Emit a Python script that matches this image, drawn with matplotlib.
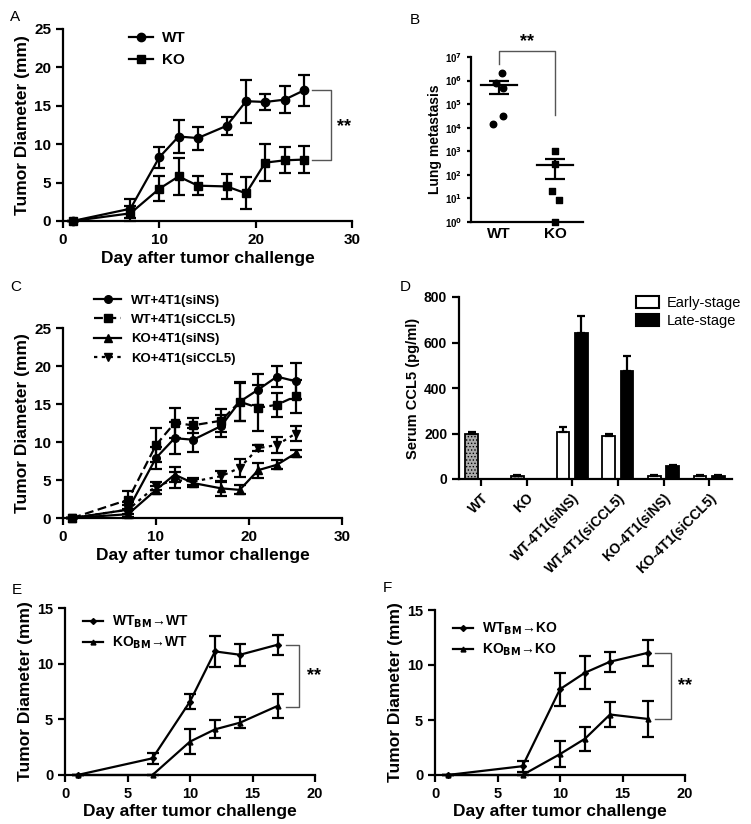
import numpy as np
import matplotlib
matplotlib.use("Agg")
import matplotlib.pyplot as plt
from matplotlib.lines import Line2D

plt.rcParams['font.family'] = ['Liberation Sans', 'DejaVu Sans']
plt.rcParams['font.weight'] = 'bold'
plt.rcParams['axes.labelweight'] = 'bold'
plt.rcParams['hatch.linewidth'] = 0.6

# ---- data -------------------------------------------------------------
days_a = [1, 7, 10, 12, 14, 17, 19, 21, 23, 25]
wt_a = [0, 1.6, 8.3, 11.0, 10.8, 12.4, 15.6, 15.5, 15.8, 17.0]
wt_a_err = [0, 1.2, 1.4, 2.1, 1.5, 1.2, 2.8, 1.1, 1.8, 2.0]
ko_a = [0, 1.0, 4.2, 5.8, 4.6, 4.5, 3.6, 7.6, 7.9, 8.0]
ko_a_err = [0, 1.0, 1.6, 2.4, 1.2, 1.6, 2.1, 2.4, 1.7, 1.8]

wt_b = [2.0e6, 8.0e5, 5.0e5, 3.0e4, 1.5e4]
ko_b = [1.0e3, 3.0e2, 20, 9, 1]
b_mean = [6.3e5, 2.6e2]
b_sem = [3.7e5, 1.9e2]

days_c = [1, 7, 10, 12, 14, 17, 19, 21, 23, 25]
c_labels = ['WT+4T1(siNS)', 'WT+4T1(siCCL5)', 'KO+4T1(siNS)', 'KO+4T1(siCCL5)']
c_vals = [
    [0, 1.1, 7.9, 10.5, 10.3, 12.1, 15.3, 16.9, 18.6, 18.0],
    [0, 2.4, 9.6, 12.5, 12.2, 12.8, 15.3, 14.5, 14.9, 16.0],
    [0, 0.5, 3.7, 5.7, 4.6, 3.9, 3.7, 6.3, 7.0, 8.5],
    [0, 1.1, 4.2, 5.0, 4.8, 5.5, 6.6, 9.2, 9.6, 11.1],
]
c_errs = [
    [0, 1.0, 1.5, 2.1, 1.6, 1.5, 2.5, 2.0, 1.4, 2.4],
    [0, 1.2, 2.2, 2.0, 1.0, 1.5, 2.6, 3.0, 1.6, 2.2],
    [0, 0.5, 0.5, 1.0, 0.5, 1.0, 0.6, 1.0, 0.6, 0.5],
    [0, 0.6, 0.5, 1.1, 0.5, 0.7, 1.2, 0.4, 1.1, 1.0],
]

d_groups = ['WT', 'KO', 'WT-4T1(siNS)', 'WT-4T1(siCCL5)', 'KO-4T1(siNS)', 'KO-4T1(siCCL5)']
d_early = [200, 15, 205, 188, 15, 15]
d_early_err = [6, 2, 25, 8, 2, 2]
d_late = [None, None, 640, 475, 55, 15]
d_late_err = [None, None, 75, 65, 8, 2]

days_e = [1, 7, 10, 12, 14, 17]
wt_e = [0, 1.5, 6.6, 11.1, 10.8, 11.7]
wt_e_err = [0, 0.5, 0.7, 1.4, 1.0, 0.9]
ko_e = [0, 0, 3.0, 4.1, 4.7, 6.2]
ko_e_err = [0, 0, 1.1, 0.8, 0.5, 1.1]

wt_f = [0, 0.8, 7.8, 9.3, 10.3, 11.1]
wt_f_err = [0, 0.5, 1.5, 1.5, 0.9, 1.2]
ko_f = [0, 0, 1.9, 3.3, 5.5, 5.1]
ko_f_err = [0, 0, 1.2, 1.1, 1.1, 1.6]

# ---- layout -----------------------------------------------------------
W, H = 751, 824
fig = plt.figure(figsize=(W / 100, H / 100), dpi=100)


def add_ax(left, top, right, bottom):
    return fig.add_axes([left / W, 1 - bottom / H, (right - left) / W, (bottom - top) / H])


def style(ax, fs=11):
    for s in ['top', 'right']:
        ax.spines[s].set_visible(False)
    for s in ['left', 'bottom']:
        ax.spines[s].set_linewidth(1.6)
    ax.tick_params(width=1.6, length=5, labelsize=fs, direction='out')
    for lab in ax.get_xticklabels() + ax.get_yticklabels():
        lab.set_fontweight('bold')


def line(ax, x, y, e, marker, ls='-', ms=6, label=None):
    ax.errorbar(x, y, yerr=e, color='black', marker=marker, ms=ms, ls=ls, lw=1.6,
                elinewidth=1.6, capsize=4, capthick=1.6, clip_on=False)
    return Line2D([], [], color='black', marker=marker, ms=ms, ls=ls, lw=1.6, label=label)


def bracket(ax, x0, x1, y_top, y_bot, tx, ty, fs=13):
    ax.plot([x0, x1, x1, x0], [y_top, y_top, y_bot, y_bot], color='#555555', lw=1.0, clip_on=False)
    ax.text(tx, ty, '**', fontsize=fs, fontweight='bold', ha='center', va='center')


# Panel A
ax = add_ax(63, 29, 352, 221)
hs = [line(ax, days_a, wt_a, wt_a_err, 'o', label='WT'),
      line(ax, days_a, ko_a, ko_a_err, 's', label='KO')]
ax.set_xlim(0, 30)
ax.set_ylim(0, 25)
ax.set_xticks([0, 10, 20, 30])
ax.set_yticks([0, 5, 10, 15, 20, 25])
ax.set_xlabel('Day after tumor challenge', fontsize=12.5, labelpad=3)
ax.set_ylabel('Tumor Diameter (mm)', fontsize=12.5, labelpad=3)
style(ax)
bracket(ax, 25.8, 27.8, 17.0, 8.0, 29.2, 12.3)
ax.legend(handles=hs, loc='upper left', bbox_to_anchor=(0.18, 1.06), frameon=False,
          handlelength=1.6, handletextpad=0.6, labelspacing=0.5,
          prop={'weight': 'bold', 'size': 11})
fig.text(10 / W, 1 - 17 / H, 'A', fontsize=11, fontweight='normal', va='center')

# Panel B
ax = add_ax(471, 57, 583, 222)
ax.set_yscale('log')
ax.scatter(np.zeros(len(wt_b)) + np.array([0.05, -0.05, 0.08, 0.08, -0.1]), wt_b,
           marker='o', color='black', s=22, zorder=3, clip_on=False)
ax.scatter(np.ones(len(ko_b)) + np.array([0.0, 0.0, -0.05, 0.08, 0.0]), ko_b,
           marker='s', color='black', s=20, zorder=3, clip_on=False)
for i in range(2):
    ax.plot([i - 0.33, i + 0.33], [b_mean[i], b_mean[i]], color='black', lw=1.6)
    ax.errorbar([i], [b_mean[i]], yerr=[b_sem[i]], color='black', lw=1.6, capsize=7, capthick=1.6)
ax.set_xlim(-0.5, 1.5)
ax.set_ylim(1, 1e7)
ax.set_yticks([10.0 ** k for k in range(8)])
ax.set_yticklabels(['10$^{%d}$' % k for k in range(8)])
ax.minorticks_off()
ax.set_xticks([0, 1])
ax.set_xticklabels(['WT', 'KO'])
ax.set_ylabel('Lung metastasis', fontsize=10, labelpad=2)
style(ax, fs=7)
ax.tick_params(axis='x', labelsize=11, length=0)
ax.tick_params(axis='y', length=3)
ax.plot([0, 0, 1, 1], [10 ** 6.7, 10 ** 7.25, 10 ** 7.25, 10 ** 4.55], color='#555555', lw=1.0, clip_on=False)
ax.text(0.5, 10 ** 7.65, '**', fontsize=13, fontweight='bold', ha='center', va='center')
fig.text(410 / W, 1 - 20 / H, 'B', fontsize=11, fontweight='normal', va='center')

# Panel C
ax = add_ax(63, 328, 342, 518)
c_markers = ['o', 's', '^', 'v']
c_styles = ['-', (0, (4, 2)), '-', (0, (1.5, 2))]
hs = []
for vals, errs, mk, ls, lab in zip(c_vals, c_errs, c_markers, c_styles, c_labels):
    hs.append(line(ax, days_c, vals, errs, mk, ls=ls, ms=5.5, label=lab))
ax.set_xlim(0, 30)
ax.set_ylim(0, 25)
ax.set_xticks([0, 10, 20, 30])
ax.set_yticks([0, 5, 10, 15, 20, 25])
ax.set_xlabel('Day after tumor challenge', fontsize=12.5, labelpad=3)
ax.set_ylabel('Tumor Diameter (mm)', fontsize=12.5, labelpad=3)
style(ax)
ax.legend(handles=hs, loc='upper left', bbox_to_anchor=(0.07, 1.24), frameon=False,
          handlelength=2.0, handletextpad=0.8, labelspacing=0.55,
          prop={'weight': 'bold', 'size': 9.5})
fig.text(10 / W, 1 - 287 / H, 'C', fontsize=11, fontweight='normal', va='center')

# Panel D
ax = add_ax(459, 297, 732, 479)
xg = np.arange(len(d_groups))
bw = 0.28
off = 0.2
ekw = {'elinewidth': 1.6, 'capthick': 1.6}
for i in range(len(d_groups)):
    if d_late[i] is None:
        ax.bar(xg[i] - off, d_early[i], bw, color='#aaaaaa', edgecolor='black', hatch='.....',
               linewidth=1.3, yerr=[[0], [d_early_err[i]]], capsize=3, error_kw=ekw)
    else:
        ax.bar(xg[i] - off, d_early[i], bw, color='white', edgecolor='black', linewidth=1.3,
               yerr=[[0], [d_early_err[i]]], capsize=3, error_kw=ekw)
        ax.bar(xg[i] + off, d_late[i], bw, color='black', edgecolor='black', linewidth=1.3,
               yerr=[[0], [d_late_err[i]]], capsize=3, error_kw=ekw)
ax.bar([0], [0], 0, color='white', edgecolor='black', linewidth=1.5, label='Early-stage')
ax.bar([0], [0], 0, color='black', edgecolor='black', linewidth=1.5, label='Late-stage')
ax.set_xlim(-0.48, 5.5)
ax.set_ylim(0, 800)
ax.set_yticks([0, 200, 400, 600, 800])
ax.set_xticks(xg)
ax.set_xticklabels(d_groups, rotation=45, ha='right', rotation_mode='anchor')
ax.set_ylabel('Serum CCL5 (pg/ml)', fontsize=10.5, labelpad=3)
style(ax, fs=10)
ax.legend(loc='upper right', bbox_to_anchor=(1.08, 1.08), frameon=False,
          handlelength=1.6, handleheight=0.9, handletextpad=0.5, labelspacing=0.3,
          prop={'weight': 'normal', 'size': 10.5})
fig.text(400 / W, 1 - 287 / H, 'D', fontsize=11, fontweight='normal', va='center')

# Panel E
ax = add_ax(65, 608, 315, 775)
hs = [line(ax, days_e, wt_e, wt_e_err, 'D', ms=3, label=r'WT$_{\mathbf{BM}}$→WT'),
      line(ax, days_e, ko_e, ko_e_err, '^', ms=3.5, label=r'KO$_{\mathbf{BM}}$→WT')]
ax.set_xlim(0, 20)
ax.set_ylim(0, 15)
ax.set_xticks([0, 5, 10, 15, 20])
ax.set_yticks([0, 5, 10, 15])
ax.set_xlabel('Day after tumor challenge', fontsize=12.5, labelpad=2)
ax.set_ylabel('Tumor Diameter (mm)', fontsize=12.5, labelpad=3)
style(ax, fs=10.5)
bracket(ax, 17.7, 18.7, 11.7, 6.15, 19.9, 8.9)
ax.legend(handles=hs, loc='upper left', bbox_to_anchor=(0.02, 1.04), frameon=False,
          handlelength=1.5, handletextpad=0.6, labelspacing=0.3,
          prop={'weight': 'bold', 'size': 10})
fig.text(12 / W, 1 - 590 / H, 'E', fontsize=11, fontweight='normal', va='center')

# Panel F
ax = add_ax(435, 610, 685, 775)
hs = [line(ax, days_e, wt_f, wt_f_err, 'D', ms=3, label=r'WT$_{\mathbf{BM}}$→KO'),
      line(ax, days_e, ko_f, ko_f_err, '^', ms=3.5, label=r'KO$_{\mathbf{BM}}$→KO')]
ax.set_xlim(0, 20)
ax.set_ylim(0, 15)
ax.set_xticks([0, 5, 10, 15, 20])
ax.set_yticks([0, 5, 10, 15])
ax.set_xlabel('Day after tumor challenge', fontsize=12.5, labelpad=2)
ax.set_ylabel('Tumor Diameter (mm)', fontsize=12.5, labelpad=3)
style(ax, fs=10.5)
bracket(ax, 17.6, 18.9, 11.1, 5.06, 20.0, 8.1)
ax.legend(handles=hs, loc='upper left', bbox_to_anchor=(0.02, 1.01), frameon=False,
          handlelength=1.5, handletextpad=0.6, labelspacing=0.3,
          prop={'weight': 'bold', 'size': 10})
fig.text(383 / W, 1 - 588 / H, 'F', fontsize=11, fontweight='normal', va='center')

fig.savefig('out.png', dpi=100)
